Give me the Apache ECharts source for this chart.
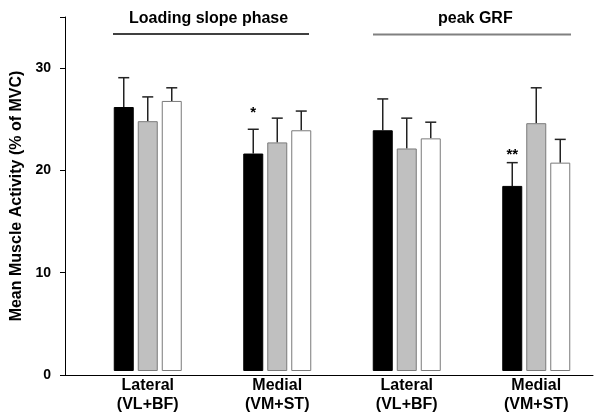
<!DOCTYPE html>
<html>
<head>
<meta charset="utf-8">
<script src="https://cdn.jsdelivr.net/npm/echarts@6/dist/echarts.min.js"></script>
<style>
html,body{margin:0;padding:0;background:#fff;}
#c{width:612px;height:414px;}
</style>
</head>
<body>
<div id="c"></div>
<script>
var categories = ['Lateral\n(VL+BF)', 'Medial\n(VM+ST)', 'Lateral\n(VL+BF)', 'Medial\n(VM+ST)'];
var blackVals = [26.1, 21.5, 23.8, 18.3];
var blackErr  = [2.9, 2.4, 3.1, 2.3];
var grayVals  = [24.7, 22.6, 22.0, 24.5];
var grayErr   = [2.4, 2.4, 3.0, 3.5];
var whiteVals = [26.7, 23.8, 23.0, 20.6];
var whiteErr  = [1.3, 1.9, 1.6, 2.3];
var sigMarks  = ['', '*', '', '**'];
var sigLevel  = [null, 25.5, null, 21.4];
var yTicks    = [0, 10, 20, 30];
var phaseLabels = ['Loading slope phase', 'peak GRF'];

var FONT = '"Liberation Sans", Arial, sans-serif';
var BAR_W = 20, BAR_GAP = 4;

var chart = echarts.init(document.getElementById('c'), null, {renderer: 'canvas'});

function errSeries(vals, errs, slot) {
  return {
    type: 'custom',
    xAxisIndex: 0, yAxisIndex: 0,
    z: 1,
    data: vals.map(function (v, i) { return [i, v, v + errs[i]]; }),
    renderItem: function (params, api) {
      var base = api.coord([api.value(0), api.value(1)]);
      var top = api.coord([api.value(0), api.value(2)]);
      var x = base[0] + slot * (BAR_W + BAR_GAP);
      var half = 5.5;
      return {
        type: 'group',
        children: [
          {type: 'line', shape: {x1: x, y1: base[1], x2: x, y2: top[1]}, style: {stroke: '#222', lineWidth: 1.5}},
          {type: 'line', shape: {x1: x - half, y1: top[1], x2: x + half, y2: top[1]}, style: {stroke: '#222', lineWidth: 1.5}}
        ]
      };
    }
  };
}

var option = {
  animation: false,
  backgroundColor: '#fff',
  grid: [
    {left: 83, right: 11, top: 17, bottom: 39, containLabel: false},
    {left: 65, right: 19, top: 17, bottom: 39, containLabel: false}
  ],
  xAxis: [
    {
      type: 'category', gridIndex: 0, data: categories,
      axisLine: {show: false}, axisTick: {show: false},
      axisLabel: {interval: 0, color: '#000', fontFamily: FONT, fontWeight: 'bold', fontSize: 16, lineHeight: 19, margin: 5}
    },
    {
      type: 'value', gridIndex: 1, min: 0, max: 1,
      axisLine: {show: true, lineStyle: {color: '#000', width: 1}},
      axisTick: {show: false}, axisLabel: {show: false}, splitLine: {show: false}
    }
  ],
  yAxis: [
    {
      type: 'value', gridIndex: 0, min: 0, max: 35, interval: 10,
      show: false
    },
    {
      type: 'value', gridIndex: 1, min: 0, max: 35, interval: 10,
      name: 'Mean Muscle Activity (% of MVC)',
      nameLocation: 'middle', nameGap: 34, nameRotate: 90,
      nameTextStyle: {color: '#000', fontFamily: FONT, fontWeight: 'bold', fontSize: 16},
      axisLine: {show: true, lineStyle: {color: '#000', width: 1}},
      axisTick: {show: true, inside: false, length: 5, lineStyle: {color: '#000'}},
      axisLabel: {
        color: '#000', fontFamily: FONT, fontWeight: 'bold', fontSize: 14, margin: 14,
        formatter: function (v) { return yTicks.indexOf(v) >= 0 ? String(v) : ''; }
      },
      splitLine: {show: false}
    }
  ],
  series: [
    errSeries(blackVals, blackErr, -1),
    errSeries(grayVals, grayErr, 0),
    errSeries(whiteVals, whiteErr, 1),
    {
      type: 'bar', xAxisIndex: 0, yAxisIndex: 0, data: blackVals, barWidth: BAR_W, barGap: '20%', z: 3,
      itemStyle: {color: '#000', borderColor: '#000', borderWidth: 1}
    },
    {
      type: 'bar', xAxisIndex: 0, yAxisIndex: 0, data: grayVals, barWidth: BAR_W, barGap: '20%', z: 3,
      itemStyle: {color: '#c0c0c0', borderColor: '#7a7a7a', borderWidth: 1}
    },
    {
      type: 'bar', xAxisIndex: 0, yAxisIndex: 0, data: whiteVals, barWidth: BAR_W, barGap: '20%', z: 3,
      itemStyle: {color: '#fff', borderColor: '#7a7a7a', borderWidth: 1}
    },
    {
      type: 'custom', xAxisIndex: 0, yAxisIndex: 0, z: 4,
      data: sigLevel.map(function (v, i) { return [i, v == null ? 0 : v, sigMarks[i]]; }),
      renderItem: function (params, api) {
        var i = params.dataIndex;
        if (!sigMarks[i]) return null;
        var p = api.coord([api.value(0), sigLevel[i]]);
        return {
          type: 'text',
          style: {
            x: p[0] - (BAR_W + BAR_GAP), y: p[1],
            text: sigMarks[i], align: 'center', verticalAlign: 'middle',
            fill: '#000', font: 'bold 15px ' + FONT
          }
        };
      }
    }
  ],
  graphic: [
    {type: 'text', left: 129, top: 11, style: {text: phaseLabels[0], fill: '#000', font: 'bold 16px ' + FONT}},
    {type: 'line', shape: {x1: 113, y1: 34, x2: 309, y2: 34}, style: {stroke: '#000', lineWidth: 1.5}},
    {type: 'text', left: 438, top: 11, style: {text: phaseLabels[1], fill: '#000', font: 'bold 16px ' + FONT}},
    {type: 'line', shape: {x1: 373, y1: 34.5, x2: 571, y2: 34.5}, style: {stroke: '#808080', lineWidth: 2}}
  ]
};
chart.setOption(option);
</script>
</body>
</html>
